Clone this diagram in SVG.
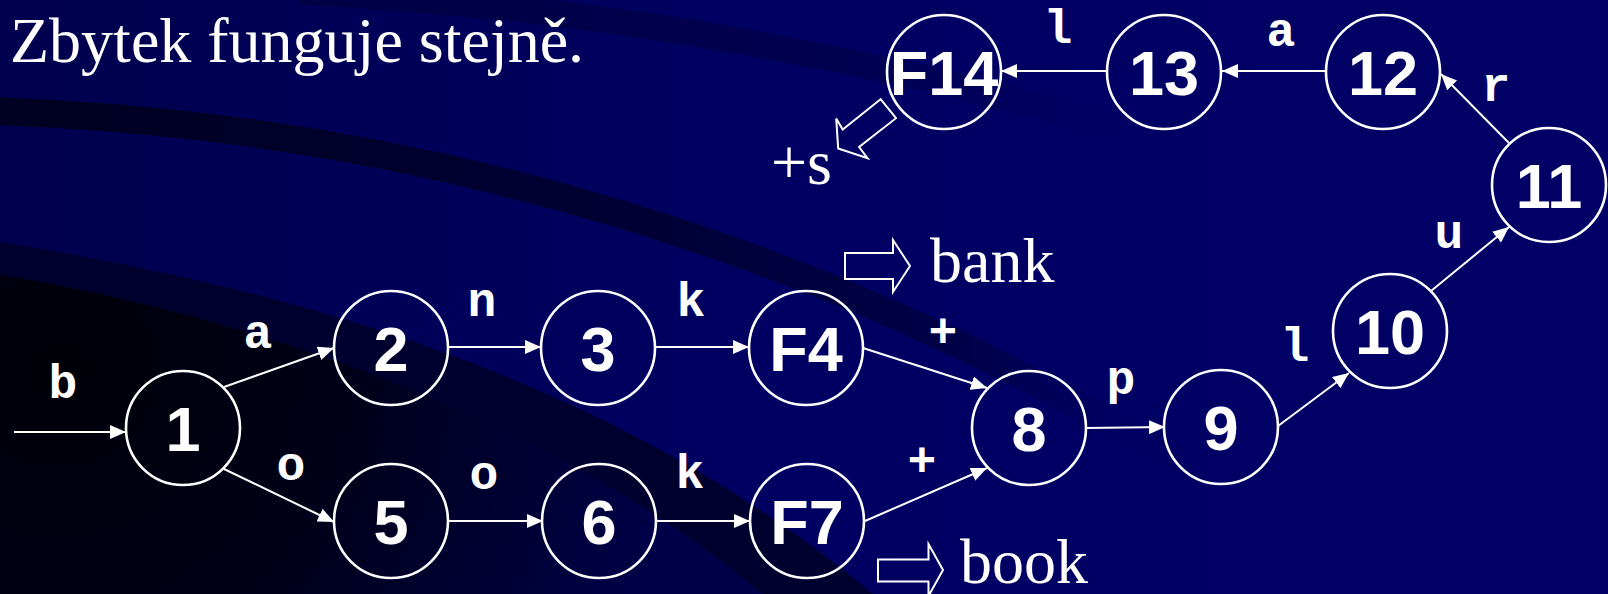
<svg xmlns="http://www.w3.org/2000/svg" width="1608" height="594" viewBox="0 0 1608 594">
  <defs>
    <style>
      .node circle { fill: none; stroke: #ffffff; stroke-width: 2.6; }
      .node text { font-family: "Liberation Sans", Arial, sans-serif; font-weight: bold; font-size: 63px; fill: #ffffff; text-anchor: middle; }
      .edge { stroke: #ffffff; stroke-width: 2; fill: none; marker-end: url(#ah); }
      .lbl { font-family: "Liberation Mono", "Courier New", monospace; font-weight: bold; font-size: 48px; fill: #ffffff; text-anchor: middle; }
      .serif { font-family: "Liberation Serif", "Times New Roman", serif; font-size: 64px; fill: #ffffff; }
      .hollow { fill: none; stroke: #ffffff; stroke-width: 2; stroke-linejoin: miter; }
    </style>
    <marker id="ah" markerWidth="16" markerHeight="14" refX="16" refY="7" orient="auto" markerUnits="userSpaceOnUse">
      <path d="M0,0 L16,7 L0,14 Z" fill="#ffffff"/>
    </marker>
    <linearGradient id="bg" x1="0" y1="0" x2="1608" y2="0" gradientUnits="userSpaceOnUse">
      <stop offset="0" stop-color="#00004e"/>
      <stop offset="0.5" stop-color="#000063"/>
      <stop offset="1" stop-color="#000066"/>
    </linearGradient>
    <linearGradient id="band0" x1="300" y1="0" x2="1120" y2="0" gradientUnits="userSpaceOnUse">
      <stop offset="0" stop-color="#00003a" stop-opacity="0.6"/>
      <stop offset="0.6" stop-color="#00003a" stop-opacity="0.5"/>
      <stop offset="1" stop-color="#00003a" stop-opacity="0"/>
    </linearGradient>
    <linearGradient id="bandA" x1="0" y1="0" x2="1200" y2="0" gradientUnits="userSpaceOnUse">
      <stop offset="0" stop-color="#000020"/>
      <stop offset="0.5" stop-color="#000034"/>
      <stop offset="0.8" stop-color="#000048"/>
      <stop offset="1" stop-color="#000066" stop-opacity="0"/>
    </linearGradient>
    <radialGradient id="inner" cx="60" cy="370" r="620" gradientUnits="userSpaceOnUse">
      <stop offset="0" stop-color="#000008"/>
      <stop offset="0.45" stop-color="#000018"/>
      <stop offset="1" stop-color="#000048"/>
    </radialGradient>
  </defs>

  <!-- background -->
  <rect x="0" y="0" width="1608" height="594" fill="url(#bg)"/>
  <path d="M300,-8 Q700,10 1120,128" fill="none" stroke="url(#band0)" stroke-width="26"/>
  <path d="M-10,111 A2438,2438 0 0 1 1200,476" fill="none" stroke="url(#bandA)" stroke-width="28"/>
  <path d="M-10,240 C300,290 620,380 880,600 L-10,600 Z" fill="#00002e"/>
  <path d="M-10,273 C250,315 560,420 770,600 L-10,600 Z" fill="url(#inner)"/>

  <!-- title and annotations -->
  <text class="serif" x="10" y="62">Zbytek funguje stejně.</text>
  <text class="serif" x="930" y="282">bank</text>
  <text class="serif" x="960" y="583">book</text>
  <text class="serif" x="771" y="184">+s</text>
  <path class="hollow" d="M845,253 H893 V240 L910,266 L893,292 V279 H845 Z"/>
  <path class="hollow" d="M878,559.5 H928.5 V544 L943,570 L928.5,596 V581.5 H878 Z"/>
  <path class="hollow" d="M880.6,99.2 L842.7,129.5 L836.2,118.6 L838.2,148.5 L867.6,158.3 L859.1,147 L896,118.2 Z"/>

  <!-- connectors -->
  <g id="connectors">
    <line class="edge" x1="14" y1="432" x2="126" y2="432"/>
    <line class="edge" x1="224" y1="387" x2="334" y2="348"/>
    <line class="edge" x1="224" y1="469" x2="334" y2="522"/>
    <line class="edge" x1="448" y1="347" x2="541" y2="347"/>
    <line class="edge" x1="448" y1="521" x2="543" y2="521"/>
    <line class="edge" x1="655" y1="347" x2="749" y2="347"/>
    <line class="edge" x1="656" y1="521" x2="750" y2="521"/>
    <line class="edge" x1="863" y1="348" x2="987" y2="388"/>
    <line class="edge" x1="865" y1="521" x2="987" y2="468"/>
    <line class="edge" x1="1086" y1="428" x2="1165" y2="427"/>
    <line class="edge" x1="1278" y1="426" x2="1349" y2="373"/>
    <line class="edge" x1="1431" y1="291" x2="1509" y2="227"/>
    <line class="edge" x1="1509" y1="143" x2="1441" y2="74"/>
    <line class="edge" x1="1326" y1="71" x2="1222" y2="71"/>
    <line class="edge" x1="1107" y1="71" x2="1001" y2="71"/>
  </g>

  <!-- edge labels -->
  <g id="labels">
    <text class="lbl" x="63" y="398">b</text>
    <text class="lbl" x="258" y="348">a</text>
    <text class="lbl" x="482" y="316">n</text>
    <text class="lbl" x="291" y="480">o</text>
    <text class="lbl" x="484" y="489">o</text>
    <text class="lbl" x="691" y="316">k</text>
    <text class="lbl" x="690" y="488">k</text>
    <text class="lbl" x="943" y="347">+</text>
    <text class="lbl" x="922" y="476">+</text>
    <text class="lbl" x="1121" y="394">p</text>
    <text class="lbl" x="1295" y="361">l</text>
    <text class="lbl" x="1449" y="248">u</text>
    <text class="lbl" x="1496" y="101">r</text>
    <text class="lbl" x="1281" y="46">a</text>
    <text class="lbl" x="1058" y="43">l</text>
  </g>

  <!-- nodes -->
  <g id="n1" class="node"><circle cx="183" cy="428" r="57"/><text x="183" y="450.5">1</text></g>
  <g id="n2" class="node"><circle cx="391" cy="348" r="57"/><text x="391" y="370.5">2</text></g>
  <g id="n3" class="node"><circle cx="598" cy="348" r="57"/><text x="598" y="370.5">3</text></g>
  <g id="nF4" class="node"><circle cx="806" cy="348" r="57"/><text x="806" y="370.5">F4</text></g>
  <g id="n5" class="node"><circle cx="391" cy="521" r="57"/><text x="391" y="543.5">5</text></g>
  <g id="n6" class="node"><circle cx="599" cy="521" r="57"/><text x="599" y="543.5">6</text></g>
  <g id="nF7" class="node"><circle cx="807" cy="521" r="57"/><text x="807" y="543.5">F7</text></g>
  <g id="n8" class="node"><circle cx="1029" cy="428" r="57"/><text x="1029" y="450.5">8</text></g>
  <g id="n9" class="node"><circle cx="1221" cy="427" r="57"/><text x="1221" y="449.5">9</text></g>
  <g id="n10" class="node"><circle cx="1390" cy="331" r="57"/><text x="1390" y="353.5">10</text></g>
  <g id="n11" class="node"><circle cx="1549" cy="185" r="57"/><text x="1549" y="207.5">11</text></g>
  <g id="n12" class="node"><circle cx="1383" cy="72" r="57"/><text x="1383" y="94.5">12</text></g>
  <g id="n13" class="node"><circle cx="1164" cy="72" r="57"/><text x="1164" y="94.5">13</text></g>
  <g id="nF14" class="node"><circle cx="944" cy="72" r="57"/><text x="944" y="94.5">F14</text></g>
</svg>
